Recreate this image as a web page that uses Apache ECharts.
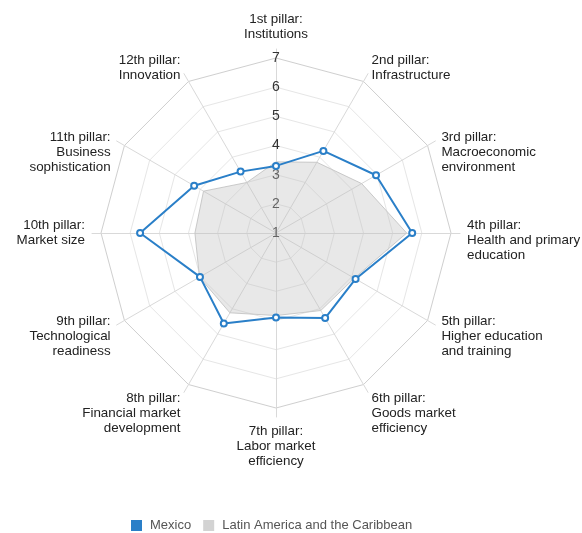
<!DOCTYPE html>
<html>
<head>
<meta charset="utf-8">
<script src="https://cdn.jsdelivr.net/npm/echarts@6/dist/echarts.min.js"></script>
<style>
html,body{margin:0;padding:0;background:#fff;}
#chart{width:582px;height:533px;}
</style>
</head>
<body>
<div id="chart"></div>
<script>
// Pillars in clockwise order starting at the top
var pillars = [
  '1st pillar:\nInstitutions',
  '2nd pillar:\nInfrastructure',
  '3rd pillar:\nMacroeconomic\nenvironment',
  '4th pillar:\nHealth and primary\neducation',
  '5th pillar:\nHigher education\nand training',
  '6th pillar:\nGoods market\nefficiency',
  '7th pillar:\nLabor market\nefficiency',
  '8th pillar:\nFinancial market\ndevelopment',
  '9th pillar:\nTechnological\nreadiness',
  '10th pillar:\nMarket size',
  '11th pillar:\nBusiness\nsophistication',
  '12th pillar:\nInnovation'
];
var mexico = [3.30, 4.25, 4.96, 5.67, 4.15, 4.37, 3.90, 4.58, 4.01, 5.66, 4.24, 3.43];
var latam  = [3.44, 3.80, 4.39, 5.48, 4.10, 4.07, 3.83, 4.16, 4.03, 3.78, 3.87, 3.00];
var seriesNames = ['Mexico', 'Latin America and the Caribbean'];
var scaleMin = 1, scaleMax = 7;

// layout only: blank lines placed before each pillar name so the first line sits near the spoke end
var nameLead = [0, 0, 2, 1, 1, 2, 0, 2, 1, 0, 2, 0];
var leadByName = {};
pillars.forEach(function (p, i) { leadByName[p] = nameLead[i]; });

// ECharts lays radar indicators counter-clockwise; reorder so they read clockwise.
var order = [0];
for (var i = pillars.length - 1; i >= 1; i--) order.push(i);
function reorder(arr) { return order.map(function (k) { return arr[k]; }); }

var font = 'Liberation Sans, Arial, sans-serif';
var indicatorsOuter = reorder(pillars).map(function (n) {
  return { name: n, min: scaleMin, max: scaleMax };
});
var indicatorsInner = reorder(pillars).map(function (n, idx) {
  return { name: n, min: scaleMin, max: scaleMax, axisLabel: { show: idx === 0 } };
});

var chart = echarts.init(document.getElementById('chart'), null, { renderer: 'canvas' });
chart.setOption({
  animation: false,
  backgroundColor: '#fff',
  textStyle: { fontFamily: font },
  legend: {
    data: seriesNames,
    top: 514,
    left: 126,
    icon: 'rect',
    itemWidth: 11,
    itemHeight: 11,
    itemGap: 12,
    textStyle: { color: '#555', fontSize: 13, fontFamily: font, padding: [0, 0, 0, 3] }
  },
  radar: [
    {
      center: [276, 233],
      radius: 184,
      shape: 'polygon',
      startAngle: 90,
      splitNumber: 6,
      indicator: indicatorsOuter,
      nameGap: 7,
      axisName: {
        color: '#222', fontSize: 13.4, fontFamily: font, lineHeight: 15,
        formatter: function (name) {
          var k = leadByName[name] || 0;
          var pre = '';
          for (var j = 0; j < k; j++) pre += ' \n';
          return pre + name;
        }
      },
      axisLine: { show: true, lineStyle: { color: '#d9d9d9', width: 1 } },
      splitLine: { show: false },
      splitArea: { show: false },
      axisTick: { show: false },
      axisLabel: { show: false }
    },
    {
      center: [276, 233],
      radius: 175,
      shape: 'polygon',
      startAngle: 90,
      splitNumber: 6,
      indicator: indicatorsInner,
      axisName: { show: false },
      axisLine: { show: false },
      splitLine: { show: true, lineStyle: { color: ['#e6e6e6', '#e6e6e6', '#e6e6e6', '#e6e6e6', '#e6e6e6', '#e6e6e6', '#cfcfcf'], width: 1 } },
      splitArea: { show: false },
      axisTick: { show: false },
      axisLabel: {
        show: false,
        margin: 0,
        align: 'center',
        verticalAlign: 'middle',
        color: '#333',
        fontSize: 14,
        fontFamily: font
      }
    }
  ],
  series: [
    {
      name: seriesNames[1],
      type: 'radar',
      radarIndex: 1,
      z: 1,
      symbol: 'none',
      itemStyle: { color: '#d3d3d3' },
      lineStyle: { color: '#cccccc', width: 1 },
      areaStyle: { color: 'rgba(190,190,190,0.35)', opacity: 1 },
      data: [{ name: seriesNames[1], value: reorder(latam) }]
    },
    {
      name: seriesNames[0],
      type: 'radar',
      radarIndex: 1,
      z: 3,
      symbol: 'emptyCircle',
      symbolSize: 6,
      itemStyle: { color: '#2a7fc8', borderWidth: 1.5 },
      lineStyle: { color: '#2a7fc8', width: 2 },
      data: [{ name: seriesNames[0], value: reorder(mexico) }]
    }
  ]
});
</script>
</body>
</html>
